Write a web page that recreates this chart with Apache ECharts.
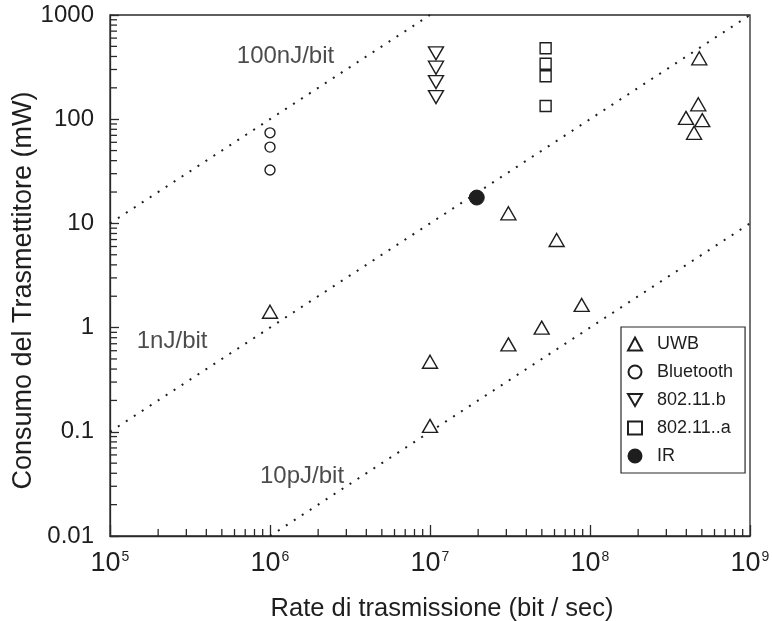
<!DOCTYPE html>
<html>
<head>
<meta charset="utf-8">
<script src="https://cdn.jsdelivr.net/npm/echarts@6/dist/echarts.min.js"></script>
<style>
html,body{margin:0;padding:0;background:#fff;}
#chart{width:772px;height:621px;}
</style>
</head>
<body>
<div id="chart"></div>
<script>
// ---- Data ----
const seriesNames = ['UWB', 'Bluetooth', '802.11.b', '802.11..a', 'IR'];
const uwbData = [
  [1e6, 1.42], [1e7, 0.47], [1e7, 0.114], [3.09e7, 12.5], [6.19e7, 6.93],
  [3.09e7, 0.69], [4.99e7, 1.0], [8.87e7, 1.65], [4.82e8, 384], [4.75e8, 139],
  [3.98e8, 103], [5.03e8, 98], [4.47e8, 74]
];
const bluetoothData = [[1e6, 74], [1e6, 54], [1e6, 32.5]];
const wifiBData = [[1.09e7, 429], [1.09e7, 312], [1.09e7, 227], [1.09e7, 163]];
const wifiAData = [[5.28e7, 479], [5.28e7, 340], [5.28e7, 258], [5.28e7, 134]];
const irData = [[1.96e7, 17.7]];

// energy-per-bit reference lines (endpoints)
const line100nJ = [[1e5, 10], [1e7, 1000]];
const line1nJ = [[1e5, 0.1], [1e9, 1000]];
const line10pJ = [[1e6, 0.01], [1e9, 10]];
const lineLabels = [
  [6.2e5, 405, '100nJ/bit'],
  [1.47e5, 0.743, '1nJ/bit'],
  [8.66e5, 0.0377, '10pJ/bit']
];

// axes
const xMin = 1e5, xMax = 1e9, yMin = 0.01, yMax = 1000;
const yTickLabels = ['0.01', '0.1', '1', '10', '100', '1000'];
const xExponents = ['5', '6', '7', '8', '9'];
const minorMultipliers = [2, 3, 4, 5, 6, 7, 8, 9];
const xDecades = [1e5, 1e6, 1e7, 1e8];
const yDecades = [0.01, 0.1, 1, 10, 100];

const xMinor = [];
xDecades.forEach(d => minorMultipliers.forEach(m => xMinor.push([d * m, yMin])));
const yMinor = [];
yDecades.forEach(d => minorMultipliers.forEach(m => yMinor.push([xMin, d * m])));

const FONT = '"Liberation Sans", Arial, Helvetica, sans-serif';
const INK = '#1e1e1e';
const AX = '#2a2a2a';

const markerStyle = { color: '#fff', borderColor: INK, borderWidth: 1.4, opacity: 1 };
const downTri = 'path://M0,0L20,0L10,17.3Z';

function minorTickSeries(data, horizontal) {
  return {
    type: 'custom', silent: true, clip: false, z: 5,
    data: data,
    renderItem: function (params, api) {
      const p = api.coord([api.value(0), api.value(1)]);
      const shape = horizontal
        ? { x1: p[0], y1: p[1], x2: p[0], y2: p[1] - 7 }
        : { x1: p[0], y1: p[1], x2: p[0] + 7, y2: p[1] };
      return { type: 'line', shape: shape, style: { stroke: AX, lineWidth: 1.3 } };
    }
  };
}

function refLine(data) {
  return {
    type: 'line', data: data, symbol: 'none', silent: true, z: 1,
    lineStyle: { color: INK, width: 2, type: [2, 7.5], opacity: 1 }
  };
}

const chart = echarts.init(document.getElementById('chart'), null, { renderer: 'canvas' });
chart.setOption({
  animation: false,
  backgroundColor: '#fff',
  textStyle: { fontFamily: FONT, color: INK },
  grid: {
    left: 110, right: 22, top: 15, bottom: 85,
    containLabel: false, outerBoundsMode: 'none',
    show: true, borderColor: AX, borderWidth: 1.3, backgroundColor: 'transparent'
  },
  xAxis: {
    type: 'log', logBase: 10, min: xMin, max: xMax,
    name: 'Rate di trasmissione (bit / sec)', nameLocation: 'middle', nameGap: 60,
    nameMoveOverlap: false,
    nameTextStyle: { fontSize: 25.5, color: INK, fontFamily: FONT, padding: [0, 0, 0, 24] },
    axisLine: { show: true, lineStyle: { color: AX, width: 1.3 } },
    axisTick: { show: true, inside: true, length: 11, lineStyle: { color: AX, width: 1.3 } },
    splitLine: { show: false },
    minorTick: { show: false },
    axisLabel: {
      margin: 14,
      formatter: function (v) {
        const e = Math.round(Math.log10(v));
        return '{b|10}{s|' + xExponents[e - 5] + '}';
      },
      rich: {
        b: { fontSize: 27, color: INK, fontFamily: FONT },
        s: { fontSize: 14, color: INK, fontFamily: FONT, padding: [0, 0, 14, 1] }
      }
    }
  },
  yAxis: {
    type: 'log', logBase: 10, min: yMin, max: yMax,
    name: 'Consumo del Trasmettitore (mW)', nameLocation: 'middle', nameGap: 73,
    nameMoveOverlap: false,
    nameTextStyle: { fontSize: 27, color: INK, fontFamily: FONT, padding: [0, 30, 0, 0] },
    axisLine: { show: true, lineStyle: { color: AX, width: 1.3 } },
    axisTick: { show: true, inside: true, length: 9, lineStyle: { color: AX, width: 1.3 } },
    splitLine: { show: false },
    minorTick: { show: false },
    axisLabel: {
      margin: 16, fontSize: 24, color: INK, fontFamily: FONT,
      formatter: function (v) {
        const e = Math.round(Math.log10(v));
        return yTickLabels[e + 2];
      }
    }
  },
  legend: {
    data: seriesNames,
    orient: 'vertical', left: 621, top: 327,
    backgroundColor: '#fff',
    borderColor: AX, borderWidth: 1.2, borderRadius: 0,
    padding: [8, 12, 8, 6],
    itemWidth: 14, itemHeight: 13, itemGap: 10,
    textStyle: { fontSize: 18, color: INK, fontFamily: FONT, padding: [0, 0, 0, 10] }
  },
  series: [
    refLine(line100nJ),
    refLine(line1nJ),
    refLine(line10pJ),
    {
      type: 'scatter', silent: true, z: 2,
      data: lineLabels, symbolSize: 0,
      label: {
        show: true, position: 'right', distance: 0,
        formatter: p => p.value[2],
        fontSize: 24, color: INK, fontFamily: FONT
      }
    },
    minorTickSeries(xMinor, true),
    minorTickSeries(yMinor, false),
    { name: 'UWB', type: 'scatter', data: uwbData, symbol: 'triangle', symbolSize: [15, 13], itemStyle: markerStyle, z: 3 },
    { name: 'Bluetooth', type: 'scatter', data: bluetoothData, symbol: 'circle', symbolSize: 10, itemStyle: markerStyle, z: 3 },
    { name: '802.11.b', type: 'scatter', data: wifiBData, symbol: downTri, symbolSize: [15, 13], itemStyle: markerStyle, z: 3 },
    { name: '802.11..a', type: 'scatter', data: wifiAData, symbol: 'rect', symbolSize: 11, itemStyle: markerStyle, z: 3 },
    { name: 'IR', type: 'scatter', data: irData, symbol: 'circle', symbolSize: 15, itemStyle: { color: INK, borderColor: INK, borderWidth: 1, opacity: 1 }, z: 3 }
  ]
});
</script>
</body>
</html>
